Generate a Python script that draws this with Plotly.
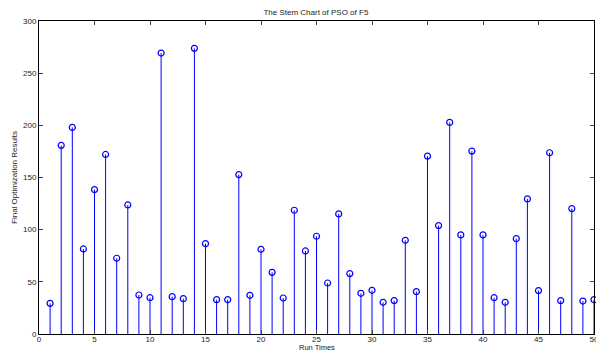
import plotly.graph_objects as go

run_times = list(range(1, 51))
results = [29.4, 180.8, 198.0, 81.5, 138.4, 172.1, 72.6, 123.7, 37.4, 34.8,
           269.3, 35.8, 33.9, 273.8, 86.6, 32.9, 32.9, 152.8, 37.1, 81.2,
           59.1, 34.5, 118.6, 79.6, 93.7, 48.9, 115.1, 57.9, 39.0, 41.9,
           30.4, 32.0, 89.8, 40.6, 170.5, 103.9, 202.8, 95.0, 175.3, 95.0,
           34.8, 30.4, 91.4, 129.5, 41.6, 173.7, 32.0, 120.2, 31.6, 32.9]

x_ticks = [0, 5, 10, 15, 20, 25, 30, 35, 40, 45, 50]
y_ticks = [0, 50, 100, 150, 200, 250, 300]

stem_x, stem_y = [], []
for xv, yv in zip(run_times, results):
    stem_x += [xv, xv, None]
    stem_y += [0, yv, None]

fig = go.Figure()
fig.add_trace(go.Scatter(x=stem_x, y=stem_y, mode="lines",
                         line=dict(color="#0000ff", width=1),
                         hoverinfo="skip", showlegend=False))
fig.add_trace(go.Scatter(x=run_times, y=results, mode="markers",
                         marker=dict(symbol="circle-open", size=6,
                                     color="#0000ff", line=dict(width=1.2)),
                         showlegend=False, cliponaxis=False))

font = dict(family="Liberation Sans, Arial, sans-serif", size=8, color="#222")
fig.update_layout(
    width=596, height=353,
    margin=dict(l=39, r=2, t=21, b=19, autoexpand=False),
    paper_bgcolor="white", plot_bgcolor="white",
    font=font,
    title=dict(text="The Stem Chart of PSO of F5", x=0.53, xanchor="center",
               y=1 - 12 / 353, yanchor="middle", font=dict(size=8)),
)
fig.add_annotation(text="Run Times", xref="paper", yref="paper", x=0.5, y=0,
                   xanchor="center", yanchor="bottom", yshift=-19, showarrow=False,
                   borderpad=0, font=dict(size=7.5))
fig.update_xaxes(range=[0, 50], tickvals=x_ticks, ticks="inside", ticklen=4,
                 showline=True, linecolor="black", linewidth=1, mirror="ticks",
                 showgrid=False, zeroline=False, ticklabeloverflow="allow",
                 ticklabelstandoff=-3,
                 automargin=False, tickfont=dict(size=8))
fig.update_yaxes(range=[0, 300], tickvals=y_ticks, ticks="inside", ticklen=4,
                 showline=True, linecolor="black", linewidth=1, mirror="ticks",
                 showgrid=False, zeroline=False, automargin=True,
                 title=dict(text="Final Optimization Results", standoff=4, font=dict(size=8)),
                 tickfont=dict(size=8))

fig.write_html("out.html")
